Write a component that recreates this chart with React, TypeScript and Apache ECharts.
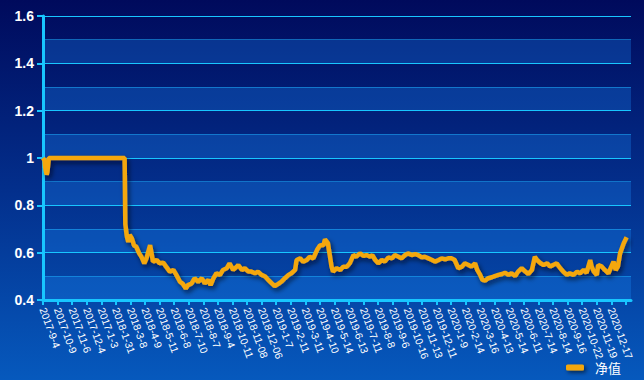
import React, { useEffect, useRef } from 'react';
import * as echarts from 'echarts';

// x-axis tick labels (one every 20 trading days)
const tickLabels = [
  '2017-9-4', '2017-10-9', '2017-11-6', '2017-12-4', '2017-1-3',
  '2018-1-31', '2018-3-8', '2018-4-9', '2018-5-11', '2018-6-8', '2018-7-10',
  '2018-8-7', '2018-9-4', '2018-10-11', '2018-11-08', '2018-12-06',
  '2019-1-7', '2019-2-11', '2019-3-11', '2019-4-10', '2019-5-14', '2019-6-13',
  '2019-7-11', '2019-8-8', '2019-9-6', '2019-10-16', '2019-11-13', '2019-12-11',
  '2020-1-9', '2020-2-14', '2020-3-16', '2020-4-13', '2020-5-14', '2020-6-11',
  '2020-7-14', '2020-8-14', '2020-9-16', '2020-10-22', '2020-11-19', '2020-12-17',
];
const labelStep = 20;
const dayCount = 808;

// trading-day index of each read point
const tradeIdx = [
  0, 2, 3, 5, 6, 8, 30, 60, 90, 112, 113, 115, 117, 119, 122, 125, 128, 132, 135, 139,
  142, 147, 149, 151, 156, 160, 165, 169, 174, 179, 183, 188, 192, 196, 199, 204, 208, 213, 218, 222,
  227, 230, 234, 238, 243, 247, 252, 256, 261, 266, 268, 273, 277, 282, 286, 291, 295, 300, 305, 309,
  314, 318, 323, 327, 332, 337, 341, 346, 348, 353, 357, 362, 366, 371, 376, 380, 385, 387, 391, 396,
  398, 403, 408, 412, 417, 421, 426, 430, 435, 440, 444, 449, 452, 456, 460, 465, 469, 474, 479, 483,
  488, 492, 497, 501, 506, 511, 515, 520, 524, 529, 534, 538, 543, 547, 552, 556, 561, 565, 570, 575,
  579, 584, 588, 593, 596, 600, 603, 607, 611, 616, 620, 625, 630, 634, 639, 643, 648, 652, 657, 662,
  666, 671, 675, 678, 683, 687, 692, 696, 700, 705, 710, 714, 719, 723, 728, 733, 737, 742, 746, 751,
  753, 756, 760, 762, 767, 771, 776, 780, 783, 786, 789, 792, 797, 801,
];

// 净值 (net value) at each read point
const nav = [
  1.0, 0.99, 0.96, 0.93, 0.94, 1.0, 1.0, 1.0, 1.0, 1.0, 0.72, 0.67, 0.645, 0.675, 0.66, 0.63, 0.625, 0.597, 0.583, 0.555,
  0.576, 0.632, 0.597, 0.562, 0.569, 0.555, 0.558, 0.541, 0.52, 0.527, 0.506, 0.477, 0.468, 0.449, 0.463, 0.47, 0.492, 0.477, 0.492, 0.47,
  0.485, 0.463, 0.492, 0.513, 0.506, 0.527, 0.534, 0.555, 0.527, 0.541, 0.548, 0.527, 0.534, 0.52, 0.52, 0.513, 0.52, 0.506, 0.499, 0.485,
  0.47, 0.459, 0.468, 0.477, 0.492, 0.506, 0.513, 0.527, 0.569, 0.576, 0.562, 0.569, 0.583, 0.576, 0.611, 0.63, 0.632, 0.656, 0.64, 0.541,
  0.52, 0.534, 0.527, 0.541, 0.541, 0.555, 0.59, 0.583, 0.597, 0.586, 0.59, 0.583, 0.59, 0.569, 0.555, 0.569, 0.562, 0.58, 0.576, 0.59,
  0.583, 0.576, 0.59, 0.597, 0.59, 0.594, 0.59, 0.58, 0.583, 0.576, 0.569, 0.562, 0.569, 0.576, 0.572, 0.576, 0.576, 0.569, 0.534, 0.541,
  0.555, 0.548, 0.541, 0.555, 0.527, 0.506, 0.485, 0.482, 0.492, 0.496, 0.501, 0.506, 0.51, 0.515, 0.506, 0.513, 0.501, 0.52, 0.534, 0.52,
  0.51, 0.527, 0.583, 0.569, 0.555, 0.548, 0.555, 0.541, 0.548, 0.555, 0.534, 0.52, 0.506, 0.513, 0.506, 0.52, 0.513, 0.527, 0.515, 0.569,
  0.541, 0.52, 0.506, 0.548, 0.541, 0.527, 0.513, 0.541, 0.562, 0.527, 0.541, 0.597, 0.64, 0.665,
];

const seriesName = '净值';

export default function App() {
  const ref = useRef<HTMLDivElement>(null);

  useEffect(() => {
    if (!ref.current) return;
    const chart = echarts.init(ref.current, null, { renderer: 'svg' });
    const categories = Array.from({ length: dayCount }, (_, i) => String(i));
    const data = tradeIdx.map((d, i) => [d, nav[i]]);
    const cyan = '#18c6ff';

    chart.setOption({
      animation: false,
      backgroundColor: new echarts.graphic.LinearGradient(0, 0, 0, 1, [
        { offset: 0, color: '#000a5c' },
        { offset: 0.5, color: '#032f8c' },
        { offset: 1, color: '#0659bd' },
      ]),
      grid: { left: 43, top: 16, right: 13, bottom: 80, containLabel: false },
      legend: {
        data: [seriesName],
        right: 18,
        top: 356,
        icon: 'roundRect',
        itemWidth: 18,
        itemHeight: 6,
        itemStyle: {
          color: '#f4a70e',
          shadowColor: 'rgba(0,0,0,0.6)',
          shadowBlur: 4,
          shadowOffsetX: 2,
          shadowOffsetY: 2,
        },
        textStyle: {
          color: '#ffffff',
          fontSize: 13,
          fontFamily: '"Noto Sans CJK SC", sans-serif',
          padding: [0, 0, 0, 6],
        },
      },
      xAxis: {
        type: 'category',
        data: categories,
        boundaryGap: false,
        axisLine: { show: true, lineStyle: { color: cyan, width: 3 } },
        axisTick: { show: true, interval: labelStep - 1, length: 5, lineStyle: { color: cyan, width: 2 } },
        axisLabel: {
          interval: labelStep - 1,
          rotate: -70,
          margin: 8,
          color: '#ffffff',
          fontSize: 10.5,
          fontFamily: '"Liberation Sans", Arial, sans-serif',
          formatter: (_v: string, idx: number) => tickLabels[idx / labelStep] ?? '',
        },
        splitLine: { show: false },
      },
      yAxis: [
        {
          type: 'value',
          min: 0.4,
          max: 1.6,
          interval: 0.2,
          z: 3,
          axisLine: { show: true, lineStyle: { color: cyan, width: 3 } },
          axisTick: { show: true, length: 6, lineStyle: { color: cyan, width: 2 } },
          axisLabel: {
            color: '#ffffff',
            fontSize: 14,
            fontWeight: 'bold',
            margin: 9,
            fontFamily: '"Liberation Sans", Arial, sans-serif',
            formatter: (v: number) => String(+v.toFixed(1)),
          },
          splitLine: { show: true, lineStyle: { color: cyan, width: 1 } },
        },
        {
          type: 'value',
          min: 0.4,
          max: 1.6,
          interval: 0.1,
          position: 'left',
          z: 0,
          axisLine: { show: false },
          axisTick: { show: false },
          axisLabel: { show: false },
          splitLine: { show: true, lineStyle: { color: 'rgba(30,180,255,0.5)', width: 1 } },
          splitArea: {
            show: true,
            areaStyle: { color: ['rgba(30,144,255,0.28)', 'rgba(0,0,0,0)'] },
          },
        },
      ],
      series: [
        {
          name: seriesName,
          type: 'line',
          data,
          yAxisIndex: 0,
          showSymbol: false,
          symbol: 'none',
          z: 5,
          itemStyle: { color: '#f4a70e' },
          lineStyle: {
            color: '#f4a70e',
            width: 4.5,
            shadowColor: 'rgba(0,0,20,0.6)',
            shadowBlur: 5,
            shadowOffsetX: 2,
            shadowOffsetY: 3,
          },
        },
      ],
    });

    return () => chart.dispose();
  }, []);

  return (
    <div
      ref={ref}
      style={{ position: 'absolute', left: 0, top: 0, width: 644, height: 380 }}
    />
  );
}
